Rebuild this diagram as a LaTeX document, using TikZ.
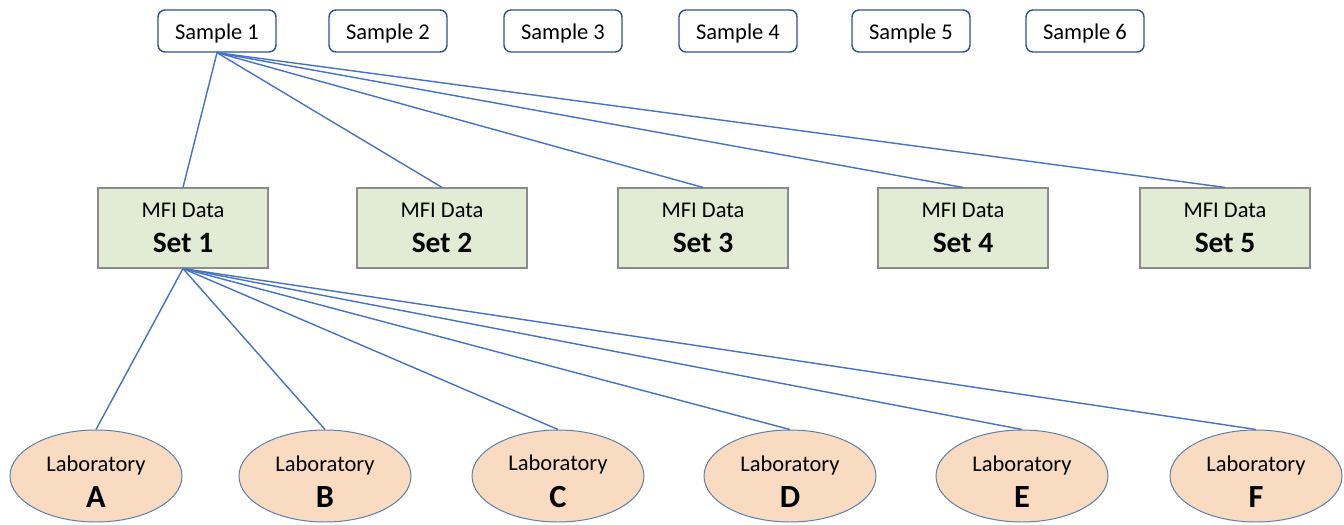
\documentclass[tikz,border=0pt]{standalone}
\usepackage{fontspec}
\setmainfont{Carlito}
\usetikzlibrary{shapes.geometric}
\definecolor{linkblue}{HTML}{4472C4}
\definecolor{sampleblue}{HTML}{2F528F}
\definecolor{setgreen}{HTML}{E2EBD4}
\definecolor{setgrey}{HTML}{8C8C8C}
\definecolor{labpeach}{HTML}{F8DBC0}
\definecolor{labedge}{HTML}{5B7FA8}
\begin{document}
\begin{tikzpicture}
\useasboundingbox (0,0) rectangle (33.6,13.1);
\begin{scope}[every node/.style = {draw=sampleblue, line width=1pt, rounded corners=5pt, fill=white,
  minimum width=2.95cm, minimum height=1.05cm, text height=15pt, text depth=3.5pt,
  font=\fontsize{16}{19}\selectfont}]
\node (S1) at (5.425, 12.325) {Sample 1};
\node (S2) at (9.7, 12.325) {Sample 2};
\node (S3) at (14.075, 12.325) {Sample 3};
\node (S4) at (18.45, 12.325) {Sample 4};
\node (S5) at (22.775, 12.325) {Sample 5};
\node (S6) at (27.125, 12.325) {Sample 6};
\end{scope}
\begin{scope}[every node/.style = {draw=setgrey, line width=0.8pt, fill=setgreen, align=center,
  minimum width=4.25cm, minimum height=2cm, font=\fontsize{16}{19}\selectfont}]
\node (D1) at (4.575, 7.4) {MFI Data\\[6pt]{\bfseries\fontsize{21}{25}\selectfont Set 1}};
\node (D2) at (11.05, 7.4) {MFI Data\\[6pt]{\bfseries\fontsize{21}{25}\selectfont Set 2}};
\node (D3) at (17.575, 7.4) {MFI Data\\[6pt]{\bfseries\fontsize{21}{25}\selectfont Set 3}};
\node (D4) at (24.075, 7.4) {MFI Data\\[6pt]{\bfseries\fontsize{21}{25}\selectfont Set 4}};
\node (D5) at (30.625, 7.4) {MFI Data\\[6pt]{\bfseries\fontsize{21}{25}\selectfont Set 5}};
\end{scope}
\begin{scope}[every node/.style = {ellipse, draw=labedge, line width=0.7pt, fill=labpeach, align=center,
  inner sep=0pt, minimum width=4.3cm, minimum height=2.3cm, font=\fontsize{16}{19}\selectfont}]
\node (LA) at (2.4, 1.2) {\rule{0pt}{19pt}Laboratory\\[7pt]{\bfseries\fontsize{23}{27}\selectfont A}};
\node (LB) at (8.125, 1.2) {\rule{0pt}{19pt}Laboratory\\[7pt]{\bfseries\fontsize{23}{27}\selectfont B}};
\node (LC) at (13.95, 1.2) {\rule{0pt}{19pt}Laboratory\\[7pt]{\bfseries\fontsize{23}{27}\selectfont C}};
\node (LD) at (19.75, 1.2) {\rule{0pt}{19pt}Laboratory\\[7pt]{\bfseries\fontsize{23}{27}\selectfont D}};
\node (LE) at (25.55, 1.2) {\rule{0pt}{19pt}Laboratory\\[7pt]{\bfseries\fontsize{23}{27}\selectfont E}};
\node (LF) at (31.4, 1.2) {\rule{0pt}{19pt}Laboratory\\[7pt]{\bfseries\fontsize{23}{27}\selectfont F}};
\end{scope}
\begin{scope}[every edge/.style = {draw, linkblue, line width=1pt}]
\path (S1.south) edge (D1.north);
\path (S1.south) edge (D2.north);
\path (S1.south) edge (D3.north);
\path (S1.south) edge (D4.north);
\path (S1.south) edge (D5.north);
\path (D1.south) edge (LA.north);
\path (D1.south) edge (LB.north);
\path (D1.south) edge (LC.north);
\path (D1.south) edge (LD.north);
\path (D1.south) edge (LE.north);
\path (D1.south) edge (LF.north);
\end{scope}
\end{tikzpicture}
\end{document}
